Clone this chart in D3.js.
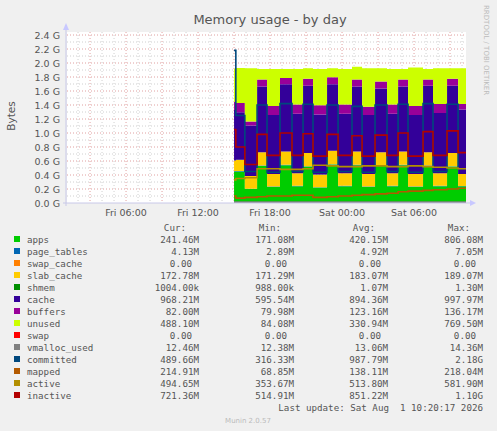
<!DOCTYPE html>
<html><head><meta charset="utf-8">
<script src="https://cdn.jsdelivr.net/npm/d3@7"></script>
<style>body{margin:0;background:#f0f0f0}svg{display:block}</style>
</head><body>
<script>
// segment boundaries, hours since Fri 00:00
const times = [15.0, 15.15, 15.9, 16.92, 17.75, 18.83, 19.83, 20.75, 21.58, 22.75, 23.67, 24.83, 25.67, 26.75, 27.75, 28.67, 29.5, 30.75, 31.58, 32.75, 33.67, 34.33];
// stacked areas (G), one value per segment
const apps        = [0.45, 0.45, 0.20, 0.53, 0.23, 0.54, 0.24, 0.52, 0.22, 0.55, 0.24, 0.54, 0.23, 0.53, 0.24, 0.54, 0.23, 0.53, 0.24, 0.52, 0.24];
const pageTables  = [0.006, 0.006, 0.005, 0.005, 0.005, 0.005, 0.005, 0.005, 0.005, 0.005, 0.005, 0.005, 0.005, 0.005, 0.005, 0.005, 0.005, 0.005, 0.005, 0.005, 0.004];
const swapCache   = [0, 0, 0, 0, 0, 0, 0, 0, 0, 0, 0, 0, 0, 0, 0, 0, 0, 0, 0, 0, 0];
const slabCache   = [0.15, 0.16, 0.18, 0.19, 0.18, 0.19, 0.18, 0.19, 0.18, 0.19, 0.18, 0.19, 0.18, 0.19, 0.18, 0.19, 0.18, 0.19, 0.18, 0.19, 0.17];
const shmem       = [0.001, 0.001, 0.001, 0.001, 0.001, 0.001, 0.001, 0.001, 0.001, 0.001, 0.001, 0.001, 0.001, 0.001, 0.001, 0.001, 0.001, 0.001, 0.001, 0.001, 0.001];
const cache       = [0.72, 0.68, 0.72, 0.94, 0.84, 0.96, 0.85, 0.96, 0.86, 0.95, 0.85, 0.93, 0.84, 0.91, 0.85, 0.93, 0.84, 0.95, 0.86, 0.96, 0.92];
const buffers     = [0.12, 0.13, 0.06, 0.10, 0.13, 0.09, 0.13, 0.10, 0.13, 0.10, 0.13, 0.10, 0.12, 0.10, 0.13, 0.10, 0.13, 0.09, 0.13, 0.10, 0.08];
const unused      = [0.47, 0.50, 0.76, 0.15, 0.53, 0.13, 0.51, 0.15, 0.52, 0.13, 0.51, 0.18, 0.55, 0.19, 0.51, 0.15, 0.55, 0.15, 0.51, 0.15, 0.51];
const swap        = [0, 0, 0, 0, 0, 0, 0, 0, 0, 0, 0, 0, 0, 0, 0, 0, 0, 0, 0, 0, 0];
// lines (G)
const vmallocUsed = [0.013, 0.013, 0.013, 0.013, 0.013, 0.013, 0.013, 0.013, 0.013, 0.013, 0.013, 0.013, 0.013, 0.013, 0.013, 0.013, 0.013, 0.013, 0.013, 0.013, 0.012];
const committed   = [2.18, 1.25, 0.45, 1.40, 0.44, 1.42, 0.45, 1.41, 0.44, 1.40, 0.45, 1.38, 0.44, 1.40, 0.45, 1.41, 0.44, 1.42, 0.45, 1.41, 0.49];
const mapped      = [0.10, 0.07, 0.08, 0.09, 0.10, 0.10, 0.11, 0.11, 0.08, 0.09, 0.10, 0.11, 0.12, 0.13, 0.14, 0.16, 0.17, 0.18, 0.19, 0.20, 0.21];
const active      = [0.33, 0.35, 0.36, 0.49, 0.49, 0.48, 0.48, 0.49, 0.54, 0.53, 0.52, 0.52, 0.53, 0.53, 0.52, 0.52, 0.53, 0.52, 0.51, 0.50, 0.49];
const inactive    = [1.05, 0.80, 0.55, 0.98, 0.68, 1.00, 0.68, 0.99, 0.67, 0.98, 0.68, 0.96, 0.67, 0.97, 0.68, 1.00, 0.67, 1.02, 0.68, 1.03, 0.72];

const yTicks = [0, 0.2, 0.4, 0.6, 0.8, 1.0, 1.2, 1.4, 1.6, 1.8, 2.0, 2.2, 2.4];
const xTicks = [6, 12, 18, 24, 30];
const xTickLabels = ['Fri 06:00', 'Fri 12:00', 'Fri 18:00', 'Sat 00:00', 'Sat 06:00'];

const legendNames = ['apps', 'page_tables', 'swap_cache', 'slab_cache', 'shmem', 'cache', 'buffers', 'unused', 'swap', 'vmalloc_used', 'committed', 'mapped', 'active', 'inactive'];
const legendColors = ['#00cc00', '#0066b3', '#ff8000', '#ffcc00', '#008f00', '#330099', '#990099', '#ccff00', '#ff0000', '#808080', '#00487d', '#b35a00', '#b38f00', '#b30000'];
const curVals = ['241.46M', '4.13M', '0.00', '172.78M', '1004.00k', '968.21M', '82.00M', '488.10M', '0.00', '12.46M', '489.66M', '214.91M', '494.65M', '721.36M'];
const minVals = ['171.08M', '2.89M', '0.00', '171.29M', '988.00k', '595.54M', '79.98M', '84.08M', '0.00', '12.38M', '316.33M', '68.85M', '353.67M', '514.91M'];
const avgVals = ['420.15M', '4.92M', '0.00', '183.07M', '1.07M', '894.36M', '123.16M', '330.94M', '0.00', '13.06M', '987.79M', '138.11M', '513.80M', '851.22M'];
const maxVals = ['806.08M', '7.05M', '0.00', '189.07M', '1.30M', '997.97M', '136.17M', '769.50M', '0.00', '14.36M', '2.18G', '218.04M', '581.90M', '1.10G'];

const W = 497, H = 431;
const svg = d3.select('body').append('svg').attr('width', W).attr('height', H);
const x = d3.scaleLinear().domain([1.08, 34.33]).range([67, 466]);
const y = d3.scaleLinear().domain([0, 2.4]).range([203, 35]);

svg.append('rect').attr('x', 67).attr('y', 32).attr('width', 399).attr('height', 171).attr('fill', '#fff');

// grid
for (let h = 2; h <= 34; h++) {
  svg.append('line').attr('x1', x(h)).attr('x2', x(h)).attr('y1', 32).attr('y2', 203)
    .attr('stroke', h % 3 === 0 ? '#e0a0a0' : '#d0d0d0').attr('stroke-dasharray', '1,2');
}
for (let i = 1; i <= 24; i++) {
  const v = i / 10;
  svg.append('line').attr('x1', 67).attr('x2', 466).attr('y1', y(v)).attr('y2', y(v))
    .attr('stroke', i % 2 === 0 ? '#e0a0a0' : '#d0d0d0').attr('stroke-dasharray', '1,2');
}

// stacked areas
const stackSeries = [apps, pageTables, swapCache, slabCache, shmem, cache, buffers, unused, swap];
const rows = times.slice(0, -1).map((t, i) => {
  const r = {t};
  stackSeries.forEach((s, k) => r[k] = s[i]);
  return r;
});
rows.push(Object.assign({}, rows[rows.length - 1], {t: times[times.length - 1]}));
const stacked = d3.stack().keys(d3.range(stackSeries.length))(rows);
const area = d3.area().curve(d3.curveStepAfter)
  .x(d => x(d.data.t)).y0(d => y(d[0])).y1(d => y(d[1]));
svg.append('g').selectAll('path').data(stacked).join('path')
  .attr('d', area).attr('fill', (d, i) => legendColors[i]);

// lines
const lineSeries = [vmallocUsed, committed, mapped, active, inactive];
const line = d3.line().curve(d3.curveStepAfter).x(d => x(d[0])).y(d => y(d[1]));
lineSeries.forEach((s, k) => {
  const pts = s.map((v, i) => [times[i], v]);
  pts.push([times[times.length - 1], s[s.length - 1]]);
  svg.append('path').attr('d', line(pts)).attr('fill', 'none')
    .attr('stroke', legendColors[9 + k]).attr('stroke-width', 1.6);
});

// axes
svg.append('line').attr('x1', 66).attr('x2', 66).attr('y1', 26).attr('y2', 206).attr('stroke', '#c8c8e8');
svg.append('line').attr('x1', 63).attr('x2', 471).attr('y1', 203).attr('y2', 203).attr('stroke', '#c8c8e8');
svg.append('path').attr('d', 'M63,30L66,23L69,30Z').attr('fill', '#c8c8ff');
svg.append('path').attr('d', 'M470,200L476,203L470,206Z').attr('fill', '#c8c8ff');

const font = 'DejaVu Sans, sans-serif';
svg.append('g').selectAll('text').data(yTicks).join('text')
  .attr('x', 60).attr('y', d => y(d) + 4).attr('text-anchor', 'end')
  .attr('font-family', font).attr('font-size', 9.5).attr('fill', '#555')
  .text(d => d.toFixed(1) + ' G');
svg.append('g').selectAll('text').data(xTicks).join('text')
  .attr('x', d => x(d)).attr('y', 216).attr('text-anchor', 'middle')
  .attr('font-family', font).attr('font-size', 9.5).attr('fill', '#555')
  .text((d, i) => xTickLabels[i]);

svg.append('text').attr('x', 270).attr('y', 24).attr('text-anchor', 'middle')
  .attr('font-family', font).attr('font-size', 13).attr('fill', '#555').text('Memory usage - by day');
svg.append('text').attr('transform', 'translate(15,116) rotate(-90)').attr('text-anchor', 'middle')
  .attr('font-family', font).attr('font-size', 10.5).attr('fill', '#555').text('Bytes');
svg.append('text').attr('transform', 'translate(484,5) rotate(90)')
  .attr('font-family', font).attr('font-size', 7).attr('fill', '#bbb').text('RRDTOOL / TOBI OETIKER');

// legend
const mono = 'DejaVu Sans Mono, monospace';
const cols = [[curVals, 199, 'Cur:', 186], [minVals, 294, 'Min:', 281], [avgVals, 388, 'Avg:', 375], [maxVals, 483, 'Max:', 470]];
cols.forEach(([vals, xr, head, xh]) => {
  svg.append('text').attr('x', xh).attr('y', 231).attr('text-anchor', 'end')
    .attr('font-family', mono).attr('font-size', 9.2).attr('fill', '#555').text(head);
});
legendNames.forEach((n, i) => {
  const yy = 243 + i * 12;
  svg.append('rect').attr('x', 14).attr('y', yy - 7).attr('width', 6).attr('height', 6).attr('fill', legendColors[i]);
  svg.append('text').attr('x', 27).attr('y', yy).attr('font-family', mono).attr('font-size', 9.2).attr('fill', '#555').text(n);
  cols.forEach(([vals, xr]) => {
    const v = vals[i];
    const pad = v === '0.00' ? -7 : 0;
    svg.append('text').attr('x', xr + pad).attr('y', yy).attr('text-anchor', 'end')
      .attr('font-family', mono).attr('font-size', 9.2).attr('fill', '#555').text(v);
  });
});
svg.append('text').attr('x', 483).attr('y', 411).attr('text-anchor', 'end').attr('xml:space', 'preserve')
  .attr('font-family', mono).attr('font-size', 9.2).attr('fill', '#555').text('Last update: Sat Aug  1 10:20:17 2026');
svg.append('text').attr('x', 248).attr('y', 423).attr('text-anchor', 'middle')
  .attr('font-family', font).attr('font-size', 7).attr('fill', '#bbb').text('Munin 2.0.57');
</script>
</body></html>
